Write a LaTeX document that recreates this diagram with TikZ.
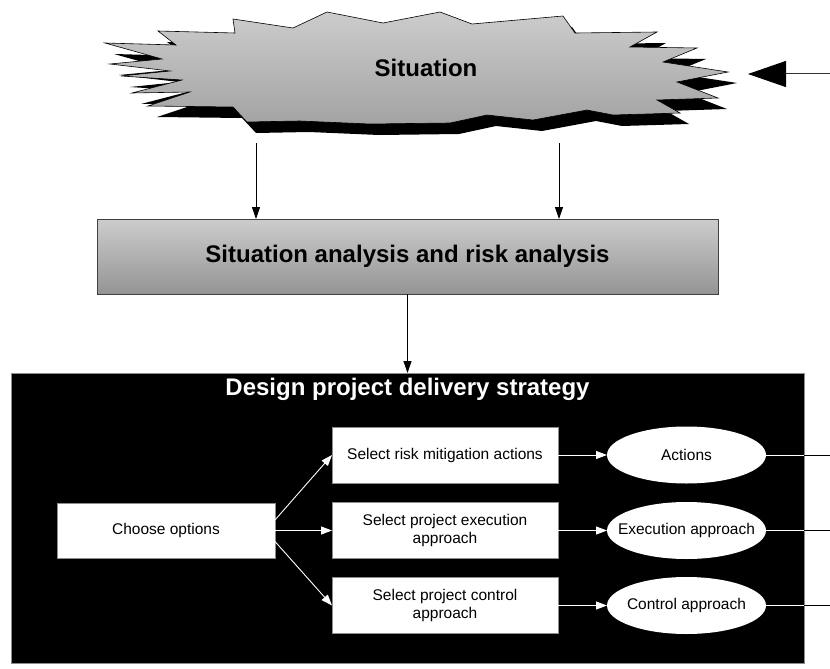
\documentclass[tikz,border=0pt]{standalone}
\usepackage{fontspec}
\setmainfont{Liberation Sans}
\usetikzlibrary{arrows.meta,shapes.geometric}

% outline of the jagged "Situation" cloud
\def\burstpath{(158,31) -- (235,33) -- (233,19) -- (293,28) -- (327,12) -- (383,23)
  -- (440,12) -- (472,24) -- (563,16) -- (575,33) -- (657,32) -- (630,47) -- (697,48)
  -- (663,62) -- (728,72) -- (677,82) -- (718,98) -- (657,100) -- (680,113) -- (613,115)
  -- (587,110) -- (533,120) -- (487,115) -- (450,123) -- (370,124) -- (300,121)
  -- (247,122) -- (233,107) -- (148,106) -- (190,92) -- (132,93) -- (182,80)
  -- (121,76) -- (170,71) -- (110,64) -- (162,59) -- (105,43) -- (176,45) -- cycle}

\begin{document}
\begin{tikzpicture}[x=1pt,y=-1pt,
  every node/.style={inner sep=0pt, outer sep=0pt},
  bigtext/.style={font=\bfseries\fontsize{24}{29}\selectfont},
  smalltext/.style={font=\fontsize{15.5}{18.5}\selectfont, align=center},
  analysisbox/.style={bigtext, draw=black!75, line width=0.8pt,
    top color=black!20, bottom color=black!42,
    minimum width=621pt, minimum height=75pt},
  container/.style={draw=black!45, line width=0.8pt, fill=black,
    minimum width=793pt, minimum height=290pt},
  whitebox/.style={smalltext, draw=black!45, line width=0.8pt, fill=white,
    minimum width=226pt, minimum height=56pt},
  outcome/.style={ellipse, fill=white, minimum width=159pt, minimum height=57pt},
  darrow/.style={draw=black, line width=0.9pt, -{Triangle[length=12pt,width=8pt]}},
  warrow/.style={draw=white, line width=0.9pt, -{Triangle[length=11pt,width=8pt]}},
  feedarrow/.style={draw=black!80, line width=1pt, -{Triangle[length=38pt,width=26pt,color=black]}},
]
\useasboundingbox (0,0) rectangle (830,669);

% situation cloud: drop shadow, shaded body, text
\fill[black, shift={(9,11)}] \burstpath;
\draw[line width=0.6pt, top color=black!20, bottom color=black!36] \burstpath;
\node[bigtext] (situation) at (426,68) {Situation};

% incoming feedback arrow on the right
\coordinate (feed) at (830,74);
\coordinate (feedtip) at (748,74);
\draw[feedarrow] (feed) -- (feedtip);

% analysis stage
\coordinate (sitL) at (256,143);
\coordinate (sitR) at (559,143);
\node[analysisbox] (analysis) at (407.5,256.5) {Situation analysis and risk analysis};
\draw[darrow] (sitL) -- (sitL |- analysis.north);
\draw[darrow] (sitR) -- (sitR |- analysis.north);

% strategy design container
\node[container] (strategy) at (407.5,518) {};
\node[bigtext, text=white] (stitle) at (407.5,389) {Design project delivery strategy};
\draw[darrow] (analysis.south) -- (strategy.north);

% steps inside the container
\node[whitebox, minimum width=218pt, minimum height=55pt] (choose) at (166,530.5) {Choose options};
\node[whitebox] (mitig) at (445,455) {Select risk mitigation actions};
\node[whitebox] (exec) at (445,530.5) {Select project execution\\approach};
\node[whitebox] (ctrl) at (445,605.5) {Select project control\\approach};

% outcomes: fixed-size ellipses with their labels on top
\node[outcome] (actions) at (686.5,455) {};
\node[outcome] (execapp) at (686.5,530.5) {};
\node[outcome] (ctrlapp) at (686.5,605.5) {};
\node[smalltext] (actionsl) at (actions) {Actions};
\node[smalltext] (execappl) at (execapp) {Execution approach};
\node[smalltext] (ctrlappl) at (ctrlapp) {Control approach};

\draw[warrow] ([yshift=10.5pt]choose.east) -- (mitig.west);
\draw[warrow] (choose.east) -- (exec.west);
\draw[warrow] ([yshift=-11pt]choose.east) -- (ctrl.west);

\draw[warrow] (mitig.east) -- (actions.west);
\draw[warrow] (exec.east) -- (execapp.west);
\draw[warrow] (ctrl.east) -- (ctrlapp.west);

% outputs leaving the container
\coordinate (rim) at (830,0);
\foreach \o in {actions,execapp,ctrlapp}{
  \draw[white, line width=0.9pt] (\o.east) -- (\o.east -| strategy.east);
  \draw[black, line width=0.9pt] (\o.east -| strategy.east) -- (\o.east -| rim);
}
\end{tikzpicture}
\end{document}
